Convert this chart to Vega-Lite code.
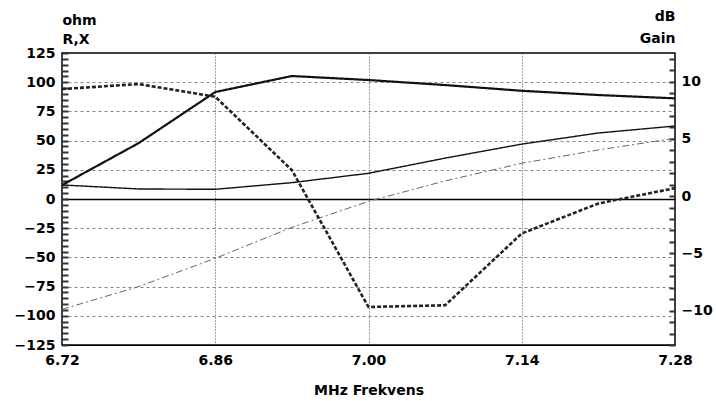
{
  "$schema": "https://vega.github.io/schema/vega-lite/v6.json",
  "autosize": {"type": "none"},
  "width": 613,
  "height": 292,
  "padding": {"left": 62, "top": 53, "right": 41, "bottom": 56},
  "background": "white",
  "config": {
    "font": "DejaVu Sans",
    "view": {"stroke": "#000", "strokeWidth": 1.5},
    "axis": {"labelFont": "DejaVu Sans", "titleFont": "DejaVu Sans", "labelColor": "#000", "titleColor": "#000", "labelFontSize": 14, "titleFontSize": 14, "labelFontWeight": "bold", "titleFontWeight": "bold", "domainColor": "#000"}
  },
  "datasets": {
    "ohm": [
      {"MHz": 6.72, "series": "R", "ohm": 12},
      {"MHz": 6.79, "series": "R", "ohm": 8.6},
      {"MHz": 6.86, "series": "R", "ohm": 8.3},
      {"MHz": 6.93, "series": "R", "ohm": 14},
      {"MHz": 7.00, "series": "R", "ohm": 22},
      {"MHz": 7.07, "series": "R", "ohm": 35},
      {"MHz": 7.14, "series": "R", "ohm": 47},
      {"MHz": 7.21, "series": "R", "ohm": 56.5},
      {"MHz": 7.28, "series": "R", "ohm": 62.5},
      {"MHz": 6.72, "series": "X", "ohm": -94.5},
      {"MHz": 6.79, "series": "X", "ohm": -75},
      {"MHz": 6.86, "series": "X", "ohm": -50.8},
      {"MHz": 6.93, "series": "X", "ohm": -24.3},
      {"MHz": 7.00, "series": "X", "ohm": -2},
      {"MHz": 7.07, "series": "X", "ohm": 15.5},
      {"MHz": 7.14, "series": "X", "ohm": 30.6},
      {"MHz": 7.21, "series": "X", "ohm": 42},
      {"MHz": 7.28, "series": "X", "ohm": 52}
    ],
    "db": [
      {"MHz": 6.72, "series": "Gain", "dB": 0.96},
      {"MHz": 6.79, "series": "Gain", "dB": 4.63},
      {"MHz": 6.86, "series": "Gain", "dB": 9.09},
      {"MHz": 6.93, "series": "Gain", "dB": 10.49},
      {"MHz": 7.00, "series": "Gain", "dB": 10.14},
      {"MHz": 7.07, "series": "Gain", "dB": 9.7},
      {"MHz": 7.14, "series": "Gain", "dB": 9.2},
      {"MHz": 7.21, "series": "Gain", "dB": 8.83},
      {"MHz": 7.28, "series": "Gain", "dB": 8.54},
      {"MHz": 6.72, "series": "F/B", "dB": 9.35},
      {"MHz": 6.79, "series": "F/B", "dB": 9.79},
      {"MHz": 6.86, "series": "F/B", "dB": 8.68},
      {"MHz": 6.93, "series": "F/B", "dB": 2.27},
      {"MHz": 7.00, "series": "F/B", "dB": -9.68},
      {"MHz": 7.07, "series": "F/B", "dB": -9.53},
      {"MHz": 7.14, "series": "F/B", "dB": -3.26},
      {"MHz": 7.21, "series": "F/B", "dB": -0.64},
      {"MHz": 7.28, "series": "F/B", "dB": 0.7}
    ]
  },
  "layer": [
    {
      "data": {"name": "ohm"},
      "mark": {"type": "line", "clip": true},
      "encoding": {
        "x": {
          "field": "MHz", "type": "quantitative",
          "scale": {"domain": [6.72, 7.28], "nice": false, "zero": false},
          "axis": {
            "title": "MHz Frekvens", "values": [6.72, 6.86, 7.0, 7.14, 7.28], "format": ".2f",
            "ticks": false, "labelPadding": 8, "titlePadding": 16, "labelFlush": false,
            "grid": true, "gridColor": "#444", "gridDash": [1, 2], "gridWidth": 1,
            "gridOpacity": {"condition": {"test": "datum.value > 6.73 && datum.value < 7.27", "value": 1}, "value": 0}
          }
        },
        "y": {
          "field": "ohm", "type": "quantitative",
          "scale": {"domain": [-125, 125], "nice": false},
          "axis": {
            "title": ["ohm", "R,X"], "titleAngle": 0, "titleAlign": "left", "titleBaseline": "alphabetic",
            "titleX": -6, "titleY": -29, "titleLineHeight": 19,
            "offset": -6, "domain": false,
            "values": [-125,-120,-115,-110,-105,-100,-95,-90,-85,-80,-75,-70,-65,-60,-55,-50,-45,-40,-35,-30,-25,-20,-15,-10,-5,0,5,10,15,20,25,30,35,40,45,50,55,60,65,70,75,80,85,90,95,100,105,110,115,120,125],
            "labelExpr": "datum.value % 25 === 0 ? datum.label : ''",
            "ticks": true, "tickSize": 6, "tickWidth": 2, "tickColor": "#333333",
            "labelPadding": 7, "labelFlush": false,
            "grid": true,
            "gridOpacity": {"condition": {"test": "datum.value % 25 === 0 && abs(datum.value) < 125", "value": 1}, "value": 0},
            "gridColor": {"condition": {"test": "datum.value === 0", "value": "#000"}, "value": "#666"},
            "gridDash": {"condition": {"test": "datum.value === 0", "value": []}, "value": [3, 3]},
            "gridWidth": {"condition": {"test": "datum.value === 0", "value": 1.3}, "value": 0.8}
          }
        },
        "color": {"field": "series", "type": "nominal", "scale": {"domain": ["R", "X"], "range": ["#111", "#666"]}, "legend": null},
        "strokeDash": {"field": "series", "type": "nominal", "scale": {"domain": ["R", "X"], "range": [[1, 0], [7, 3, 2, 3]]}, "legend": null},
        "strokeWidth": {"field": "series", "type": "nominal", "scale": {"domain": ["R", "X"], "range": [1.4, 1]}, "legend": null}
      }
    },
    {
      "data": {"name": "db"},
      "mark": {"type": "line", "clip": true},
      "encoding": {
        "x": {"field": "MHz", "type": "quantitative"},
        "y": {
          "field": "dB", "type": "quantitative",
          "scale": {"domain": [-13, 12.5], "nice": false, "zero": false},
          "axis": {
            "orient": "right",
            "title": ["dB", "Gain"], "titleAngle": 0, "titleAlign": "right", "titleBaseline": "alphabetic",
            "titleX": 6, "titleY": -33, "titleLineHeight": 22,
            "offset": -6, "domain": false,
            "values": [-13,-12,-11,-10,-9,-8,-7,-6,-5,-4,-3,-2,-1,0,1,2,3,4,5,6,7,8,9,10,11,12],
            "labelExpr": "datum.value % 5 === 0 ? datum.label : ''",
            "ticks": true, "tickSize": 6, "tickWidth": 2, "tickColor": "#333333",
            "labelPadding": 6, "labelFlush": false, "grid": false
          }
        },
        "color": {"field": "series", "type": "nominal", "scale": {"domain": ["Gain", "F/B"], "range": ["#111", "#222"]}, "legend": null},
        "strokeDash": {"field": "series", "type": "nominal", "scale": {"domain": ["Gain", "F/B"], "range": [[1, 0], [4, 2]]}, "legend": null},
        "strokeWidth": {"field": "series", "type": "nominal", "scale": {"domain": ["Gain", "F/B"], "range": [2.2, 2.6]}, "legend": null}
      }
    }
  ],
  "resolve": {"scale": {"y": "independent", "color": "independent", "strokeDash": "independent", "strokeWidth": "independent"}}
}
